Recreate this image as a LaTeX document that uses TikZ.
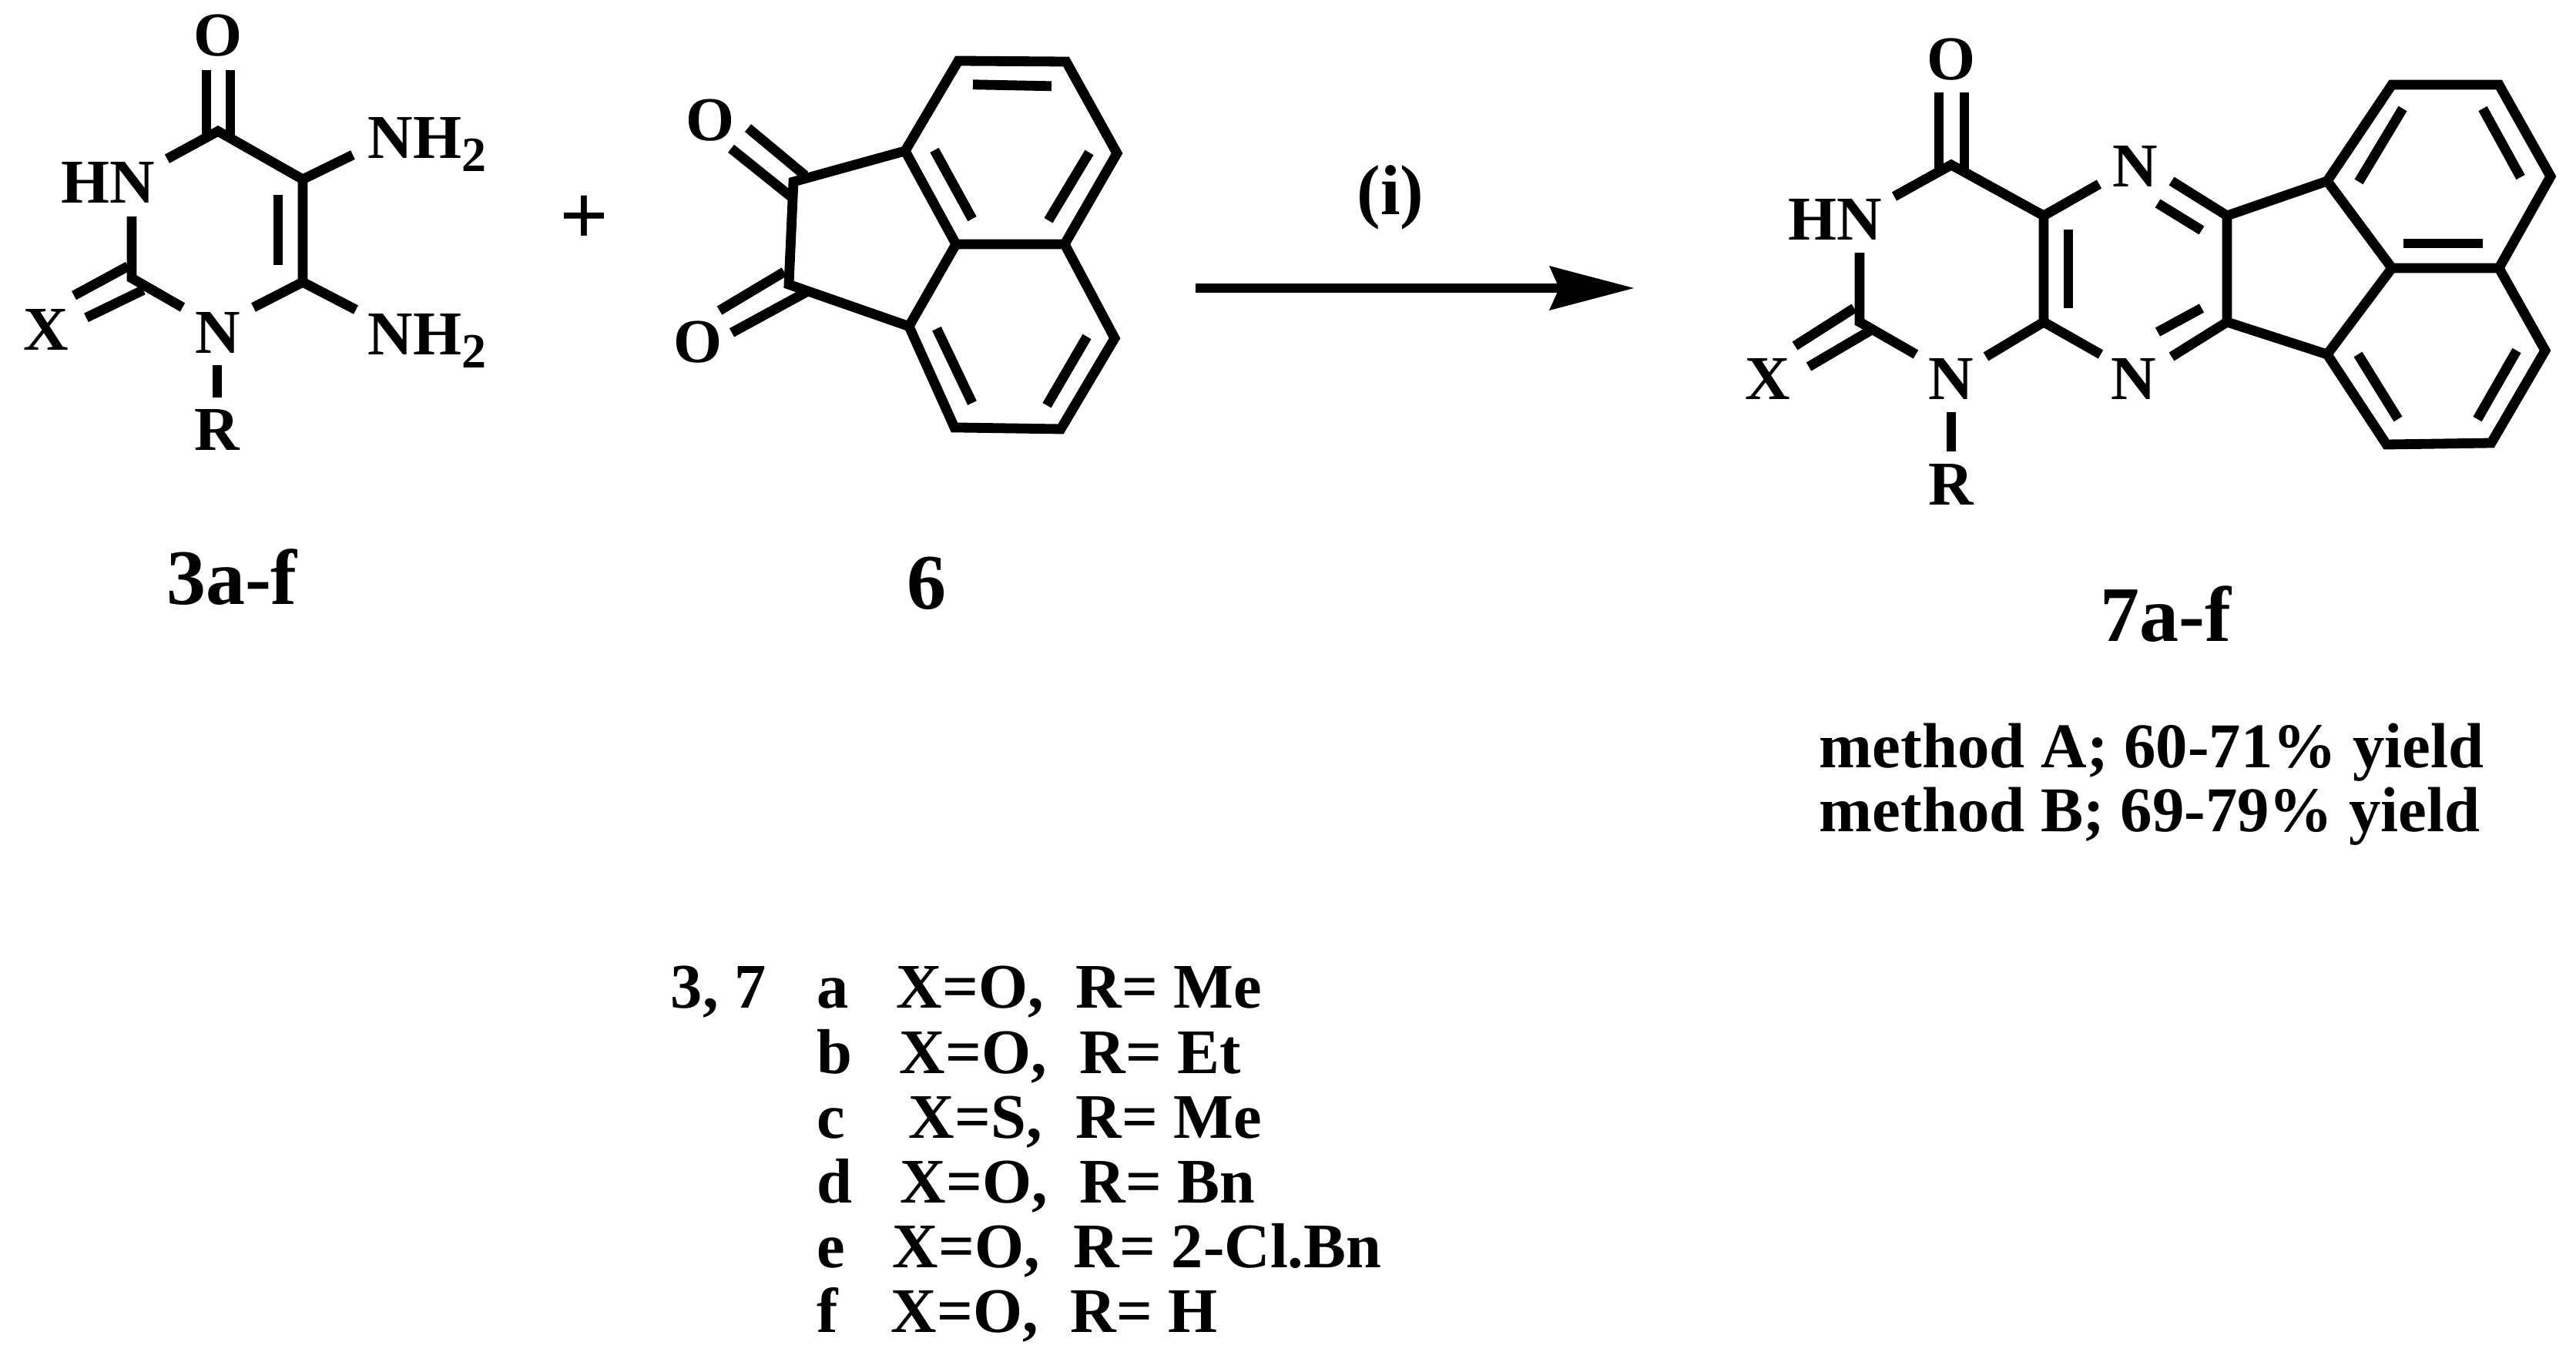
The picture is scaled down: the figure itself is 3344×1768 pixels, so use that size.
\documentclass[tikz,border=0pt]{standalone}
\usepackage{fontspec}
\setmainfont{Liberation Serif}
\tikzset{
  x=0.25pt,y=-0.25pt,
  bnd/.style={line width=3.2pt,line join=miter,line cap=butt,black},
  lab/.style={anchor=base,inner sep=0pt,font=\fontsize{20.25}{24}\selectfont\bfseries},
  lefty/.style={anchor=base west,inner sep=0pt,font=\fontsize{20.25}{24}\selectfont\bfseries},
  rowtxt/.style={anchor=base west,inner sep=0pt,font=\fontsize{20.6}{24}\selectfont\bfseries},
  cmpd/.style={anchor=base,inner sep=0pt,font=\fontsize{25.5}{30}\selectfont\bfseries},
  meth/.style={anchor=base west,inner sep=0pt,font=\fontsize{20.7}{24}\selectfont\bfseries},
}
\newcommand{\subtwo}{\raisebox{-4.25pt}{\fontsize{16}{16}\selectfont 2}}
\begin{document}
\begin{tikzpicture}
\useasboundingbox (0,0) rectangle (3344,1768);
\begin{scope}[yscale=1.0255]
% ---------- compound 3
\coordinate (a4) at (283,166);
\coordinate (a5) at (393,227);
\coordinate (a6) at (393,357);
\coordinate (a2) at (171,352);
\coordinate (aO1) at (268,89); \coordinate (aO1b) at (268,171);
\coordinate (aO2) at (299,89); \coordinate (aO2b) at (299,171);
\coordinate (abar1) at (361,247); \coordinate (abar2) at (361,335);
\coordinate (aNa) at (458,196);
\coordinate (aNb) at (462,392);
\coordinate (aN1r) at (329,389);
\coordinate (aN1l) at (237,389);
\coordinate (aHd) at (171,274);
\coordinate (aHr) at (217,201);
\coordinate (aX1a) at (166,337); \coordinate (aX1b) at (96,374);
\coordinate (aX2a) at (186,367); \coordinate (aX2b) at (112,402);
\coordinate (aR1) at (282,462); \coordinate (aR2) at (282,503);
\draw[bnd] (aO1) -- (aO1b);
\draw[bnd] (aO2) -- (aO2b);
\draw[bnd] (aHr) -- (a4) -- (a5) -- (a6) -- (aN1r);
\draw[bnd] (abar1) -- (abar2);
\draw[bnd] (a5) -- (aNa);
\draw[bnd] (a6) -- (aNb);
\draw[bnd] (aHd) -- (a2) -- (aN1l);
\draw[bnd] (aX1a) -- (aX1b);
\draw[bnd] (aX2a) -- (aX2b);
\draw[bnd] (aR1) -- (aR2);
\node[lab] (aO) at (283,71) {O};
\node[lefty] (aHN) at (79,257) {HN};
\node[lab] (aX) at (60,443) {X};
\node[lab] (aN) at (283,447) {N};
\node[lab] (aR) at (282,570) {R};
\node[lefty] (aNH1) at (477,200) {NH\subtwo};
\node[lefty] (aNH2) at (477,449) {NH\subtwo};
\node[cmpd] (a3) at (301,765) {3a-f};
% ---------- compound 6
\coordinate (b1) at (1030,230);
\coordinate (b2) at (1024,360);
\coordinate (b3) at (1175,191);
\coordinate (b4) at (1180,413);
\coordinate (b5) at (1241,309);
\coordinate (b6) at (1382,309);
\coordinate (b7) at (1244,77);
\coordinate (b8) at (1384,78);
\coordinate (b9) at (1450,194);
\coordinate (b10) at (1447,428);
\coordinate (b11) at (1377,543);
\coordinate (b12) at (1239,541);
\coordinate (bi1) at (1263,107); \coordinate (bi2) at (1365,109);
\coordinate (bi3) at (1213,190); \coordinate (bi4) at (1262,277);
\coordinate (bi5) at (1414,193); \coordinate (bi6) at (1361,279);
\coordinate (bi7) at (1216,416); \coordinate (bi8) at (1262,510);
\coordinate (bi9) at (1411,426); \coordinate (bi10) at (1359,513);
\coordinate (bo1) at (971,162); \coordinate (bo2) at (1045,222);
\coordinate (bo3) at (949,188); \coordinate (bo4) at (1027,249);
\coordinate (bo5) at (934,393); \coordinate (bo6) at (1018,344);
\coordinate (bo7) at (950,421); \coordinate (bo8) at (1046,370);
\draw[bnd] (b1) -- (b3) -- (b5) -- (b4) -- (b2) -- cycle;
\draw[bnd] (b3) -- (b7) -- (b8) -- (b9) -- (b6) -- (b5);
\draw[bnd] (b4) -- (b12) -- (b11) -- (b10) -- (b6);
\draw[bnd] (bi1) -- (bi2);
\draw[bnd] (bi3) -- (bi4);
\draw[bnd] (bi5) -- (bi6);
\draw[bnd] (bi7) -- (bi8);
\draw[bnd] (bi9) -- (bi10);
\draw[bnd] (bo1) -- (bo2);
\draw[bnd] (bo3) -- (bo4);
\draw[bnd] (bo5) -- (bo6);
\draw[bnd] (bo7) -- (bo8);
\node[lab] (bO1) at (922,178) {O};
\node[lab] (bO2) at (906,459) {O};
\node[cmpd] (b0) at (1203,771) {6};
\end{scope}
\node[anchor=base,inner sep=0pt,font=\fontsize{28}{30}\selectfont\bfseries] (plus) at (758,317) {+};
% ---------- arrow
\node[lab,font=\fontsize{23}{28}\selectfont\bfseries] (cond) at (1805,278) {(i)};
\coordinate (ar1) at (1552,374);
\coordinate (ar2) at (2030,374);
\coordinate (tip) at (2121,374);
\coordinate (bar1) at (2011,345);
\coordinate (bar2) at (2011,403);
\coordinate (notch) at (2024,374);
\draw[line width=3.1pt] (ar1) -- (ar2);
\fill (tip) -- (bar1) -- (notch) -- (bar2) -- cycle;
% ---------- compound 7
\coordinate (c4) at (2533,214);
\coordinate (c4a) at (2653,280);
\coordinate (c10) at (2653,418);
\coordinate (c2) at (2414,418);
\coordinate (cO1) at (2517,120); \coordinate (cO1b) at (2517,225);
\coordinate (cO2) at (2550,120); \coordinate (cO2b) at (2550,225);
\coordinate (cb1) at (2685,298); \coordinate (cb2) at (2685,400);
\coordinate (cNt) at (2725,239);
\coordinate (cNb) at (2727,460);
\coordinate (cp1) at (2891,280);
\coordinate (cp2) at (2891,418);
\coordinate (cNtr) at (2819,235);
\coordinate (cNbr) at (2819,463);
\coordinate (cq1) at (2801,264); \coordinate (cq2) at (2858,299);
\coordinate (cq3) at (2801,431); \coordinate (cq4) at (2858,400);
\coordinate (c5a) at (3021,235);
\coordinate (c5b) at (3021,460);
\coordinate (ccl) at (3105,348);
\coordinate (ccr) at (3244,348);
\coordinate (ctl) at (3105,110);
\coordinate (ctr) at (3244,110);
\coordinate (cru) at (3311,229);
\coordinate (crl) at (3304,455);
\coordinate (cbr) at (3234,575);
\coordinate (cbl) at (3098,577);
\coordinate (ci1) at (3119,141); \coordinate (ci2) at (3062,236);
\coordinate (ci3) at (3223,141); \coordinate (ci4) at (3272,230);
\coordinate (ci5) at (3120,316); \coordinate (ci6) at (3223,316);
\coordinate (ci7) at (3061,460); \coordinate (ci8) at (3113,544);
\coordinate (ci9) at (3267,455); \coordinate (ci10) at (3216,544);
\coordinate (cN1r) at (2578,463);
\coordinate (cN1l) at (2487,460);
\coordinate (cHd) at (2414,328);
\coordinate (cHr) at (2459,255);
\coordinate (cX1) at (2407,400); \coordinate (cX2) at (2330,449);
\coordinate (cX3) at (2428,429); \coordinate (cX4) at (2348,476);
\coordinate (cR1) at (2533,535); \coordinate (cR2) at (2533,586);
\draw[bnd] (cO1) -- (cO1b);
\draw[bnd] (cO2) -- (cO2b);
\draw[bnd] (cHr) -- (c4) -- (c4a) -- (c10) -- (cN1r);
\draw[bnd] (c4a) -- (cNt);
\draw[bnd] (c10) -- (cNb);
\draw[bnd] (cb1) -- (cb2);
\draw[bnd] (cNtr) -- (cp1) -- (cp2) -- (cNbr);
\draw[bnd] (cq1) -- (cq2);
\draw[bnd] (cq3) -- (cq4);
\draw[bnd] (cp1) -- (c5a) -- (ccl) -- (c5b) -- (cp2);
\draw[bnd] (c5a) -- (ctl) -- (ctr) -- (cru) -- (ccr) -- (ccl);
\draw[bnd] (c5b) -- (cbl) -- (cbr) -- (crl) -- (ccr);
\draw[bnd] (ci1) -- (ci2);
\draw[bnd] (ci3) -- (ci4);
\draw[bnd] (ci5) -- (ci6);
\draw[bnd] (ci7) -- (ci8);
\draw[bnd] (ci9) -- (ci10);
\draw[bnd] (cHd) -- (c2) -- (cN1l);
\draw[bnd] (cX1) -- (cX2);
\draw[bnd] (cX3) -- (cX4);
\draw[bnd] (cR1) -- (cR2);
\node[lab] (cO) at (2533,103) {O};
\node[lab] (cHN) at (2382,311) {HN};
\node[lab] (cX) at (2295,518) {X};
\node[lab] (cN1) at (2533,518) {N};
\node[lab] (cN2) at (2772,242) {N};
\node[lab] (cN3) at (2770,518) {N};
\node[lab] (cR) at (2533,655) {R};
\node[cmpd] (c7) at (2811,832) {7a-f};
\node[meth] (m1) at (2361,996) {method A; 60-71\% yield};
\node[meth] (m2) at (2361,1079) {method B; 69-79\% yield};
% ---------- table
\node[rowtxt] (t0) at (870,1308) {3, 7};
\node[rowtxt] (ta) at (1060,1308) {a};
\node[rowtxt] (tax) at (1163,1308) {X=O,};
\node[rowtxt] (tar) at (1396,1308) {R= Me};
\node[rowtxt] (tb) at (1060,1393) {b};
\node[rowtxt] (tbx) at (1167,1393) {X=O,};
\node[rowtxt] (tbr) at (1401,1393) {R= Et};
\node[rowtxt] (tc) at (1060,1477) {c};
\node[rowtxt] (tcx) at (1179,1477) {X=S,};
\node[rowtxt] (tcr) at (1396,1477) {R= Me};
\node[rowtxt] (td) at (1060,1561) {d};
\node[rowtxt] (tdx) at (1168,1561) {X=O,};
\node[rowtxt] (tdr) at (1401,1561) {R= Bn};
\node[rowtxt] (te) at (1060,1645) {e};
\node[rowtxt] (tex) at (1158,1645) {X=O,};
\node[rowtxt] (ter) at (1393,1645) {R= 2-Cl.Bn};
\node[rowtxt] (tf) at (1060,1729) {f};
\node[rowtxt] (tfx) at (1156,1729) {X=O,};
\node[rowtxt] (tfr) at (1389,1729) {R= H};
\end{tikzpicture}
\end{document}
